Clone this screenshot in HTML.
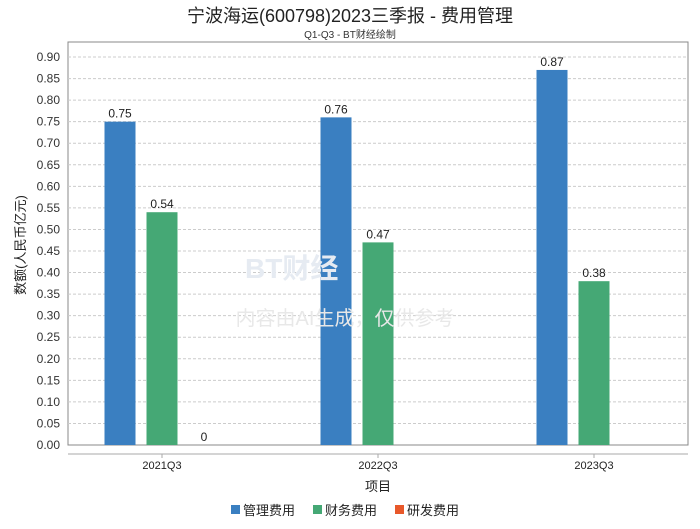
<!DOCTYPE html>
<html><head><meta charset="utf-8"><style>
body{margin:0;background:#fff;font-family:"Liberation Sans","Noto Sans CJK SC",sans-serif;}
svg text{font-family:"Liberation Sans","Noto Sans CJK SC",sans-serif;}
</style></head><body>
<svg id="c" width="700" height="524" xmlns="http://www.w3.org/2000/svg">
<text x="350" y="22" text-anchor="middle" font-size="18" fill="#222">宁波海运(600798)2023三季报 - 费用管理</text>
<text x="350" y="38" text-anchor="middle" font-size="10" fill="#333">Q1-Q3 - BT财经绘制</text>
<rect x="68" y="42" width="620" height="403" fill="none" stroke="#888"/>
<line x1="68" y1="454" x2="688" y2="454" stroke="#aaa"/>
<g id="grid"></g><g id="bars"></g>
<text x="245" y="278" font-size="28" fill="#e6ebf2" font-weight="bold">BT财经</text>
<text x="345" y="325" text-anchor="middle" font-size="20" fill="#e8e8e8">内容由AI生成，仅供参考</text>
<text x="378" y="491" text-anchor="middle" font-size="13" fill="#222">项目</text>
<text transform="translate(25,245) rotate(-90)" text-anchor="middle" font-size="13" fill="#222">数额(人民币亿元)</text>
<g>
<rect x="231" y="505" width="9" height="9" fill="#3a7fc1"/>
<text x="243" y="515" font-size="13" fill="#222">管理费用</text>
<rect x="313" y="505" width="9" height="9" fill="#45a875"/>
<text x="325" y="515" font-size="13" fill="#222">财务费用</text>
<rect x="395" y="505" width="9" height="9" fill="#e8582a"/>
<text x="407" y="515" font-size="13" fill="#222">研发费用</text>
</g>
</svg>
<script>
const categories=["2021Q3","2022Q3","2023Q3"];
const adminExp=[0.75,0.76,0.87];
const finExp=[0.54,0.47,0.38];
const rdExp=[0,null,null];
const yTicks=[0,0.05,0.1,0.15,0.2,0.25,0.3,0.35,0.4,0.45,0.5,0.55,0.6,0.65,0.7,0.75,0.8,0.85,0.9];
const NS="http://www.w3.org/2000/svg";
const y=v=>445-v*431.1;
const x=i=>162+i*216;
const grid=document.getElementById('grid'),bars=document.getElementById('bars');
function mk(t,a,p){const e=document.createElementNS(NS,t);for(const k in a)e.setAttribute(k,a[k]);p.appendChild(e);return e;}
yTicks.forEach(v=>{
 if(v>0){const l=mk('line',{x1:68,x2:688,y1:y(v),y2:y(v),stroke:'#ccc','stroke-dasharray':'3,2'},grid);
 
 }
 const t=mk('text',{x:60,y:y(v)+4,'text-anchor':'end','font-size':12,fill:'#333'},grid);t.textContent=v.toFixed(2);
 
 
});
categories.forEach((c,i)=>{
 const t=mk('text',{x:x(i),y:469,'text-anchor':'middle','font-size':11,fill:'#222'},grid);t.textContent=c;
 
 
 mk('line',{x1:x(i),x2:x(i),y1:454,y2:458,stroke:'#aaa'},grid);
});
const series=[[adminExp,'#3a7fc1',-42,'bar-admin'],[finExp,'#45a875',0,'bar-finance'],[rdExp,'#e8582a',42,'bar-rd']];
series.forEach(([arr,col,off,nm])=>{
 arr.forEach((v,i)=>{
  if(v===null)return;
  const cx=x(i)+off;
  const r=mk('rect',{x:cx-15.5,y:y(v),width:31,height:445-y(v),fill:col},bars);
  
  
  const t=mk('text',{x:cx,y:y(v)-4,'text-anchor':'middle','font-size':12,fill:'#222'},bars);
  t.textContent=String(v);
  
  
 });
});
</script>
</body></html>
